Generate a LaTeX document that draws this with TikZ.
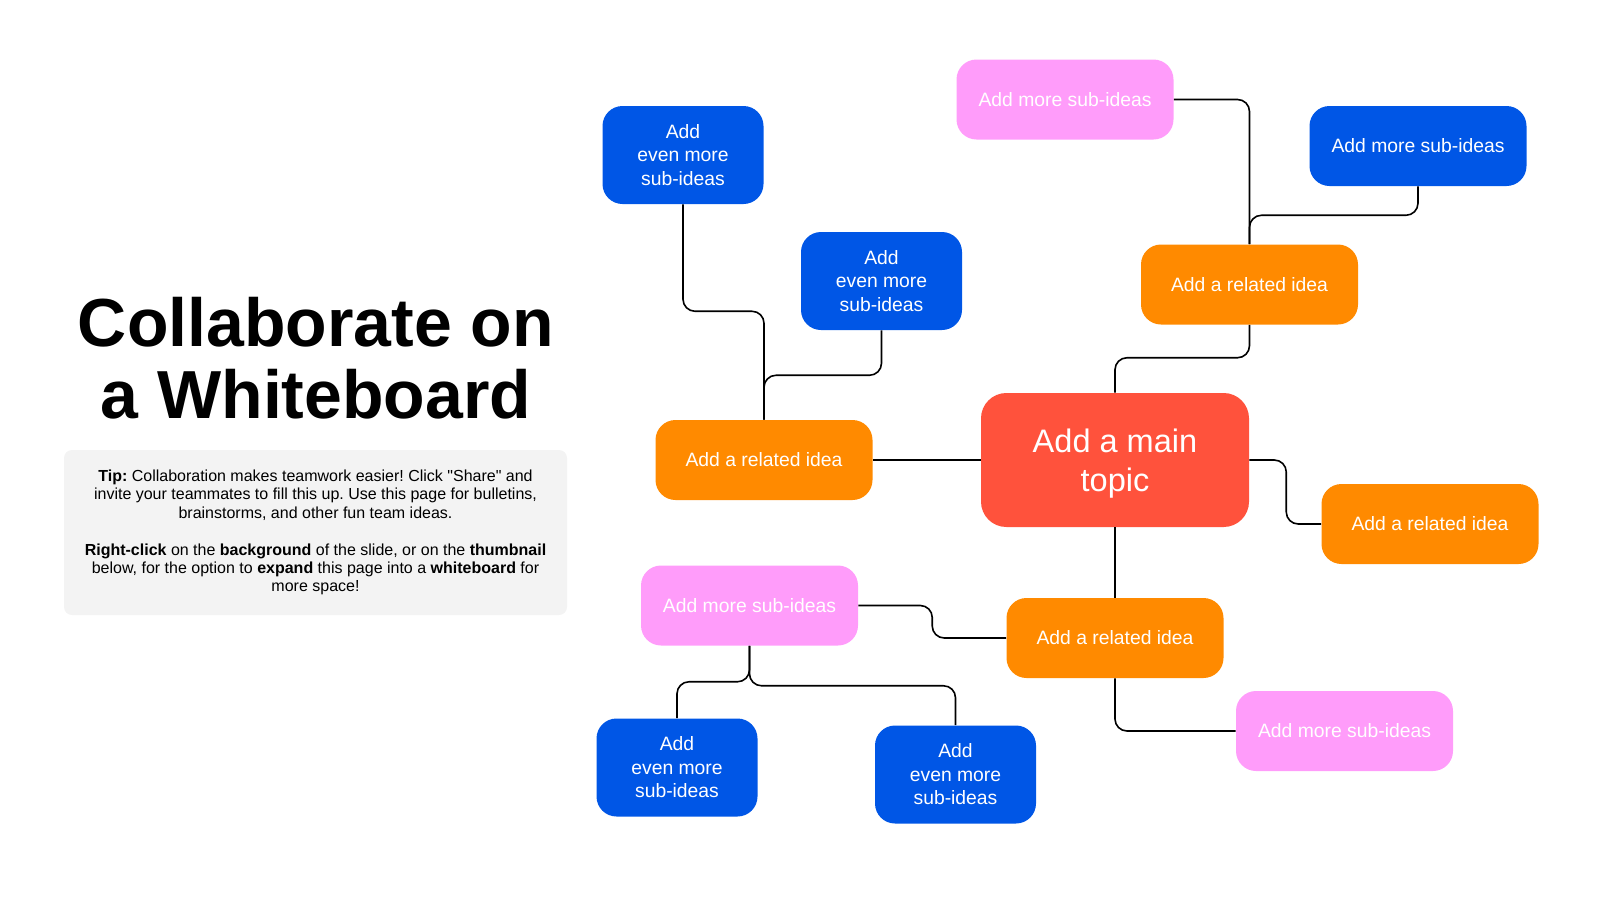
\documentclass[tikz,border=0pt]{standalone}
\usepackage{fontspec}
\setmainfont{Liberation Sans}
\frenchspacing
\definecolor{ideablue}{RGB}{0,86,230}
\definecolor{ideaorange}{RGB}{255,138,0}
\definecolor{ideared}{RGB}{255,82,60}
\definecolor{ideapink}{RGB}{255,156,250}
\definecolor{tipgrey}{RGB}{243,243,243}
\begin{document}
\begin{tikzpicture}[x=0.75pt,y=0.75pt,yscale=-1,xscale=1,
    link/.style={line width=1.2pt, rounded corners=9pt},
    idea/.style={rounded corners=15pt, minimum width=162.75pt, minimum height=60pt, inner sep=0pt,
        text=white, align=center, font=\fontsize{14.5}{17.6}\selectfont},
    relbox/.style={idea, fill=ideaorange},
    subbox/.style={idea, fill=ideapink},
    morebox/.style={idea, fill=ideablue},
    evenbox/.style={idea, fill=ideablue, minimum width=120.75pt, minimum height=73.5pt}]
        \useasboundingbox (0,0) rectangle (1600,900);

        % Title
        \node (title) at (316,358) [align=center, font=\fontsize{51}{54}\selectfont\bfseries] {Collaborate on\\a Whiteboard};
        % Tip box
        \node (tip) at (315.5,532.5) [fill=tipgrey, rounded corners=6pt, minimum width=377.25pt, minimum height=123.75pt,
            align=center, font=\fontsize{12}{13.8}\selectfont]
            {\textbf{Tip:} Collaboration makes teamwork easier! Click \textquotedbl Share\textquotedbl\ and\\
             invite your teammates to fill this up. Use this page for bulletins,\\
             brainstorms, and other fun team ideas.\\[13.8pt]
             \textbf{Right-click} on the \textbf{background} of the slide, or on the \textbf{thumbnail}\\
             below, for the option to \textbf{expand} this page into a \textbf{whiteboard} for\\
             more space!};

        % Main topic
        \node (main) at (1115,460) [fill=ideared, rounded corners=19pt, minimum width=201pt, minimum height=100.5pt,
            text height=52.5pt, text=white, align=center, font=\fontsize{24.4}{29}\selectfont] {Add a main\\topic};
        % Related ideas
        \node (relleft) at (764,460) [relbox] {Add a related idea};
        \node (relup) at (1249.5,284.5) [relbox] {Add a related idea};
        \node (relright) at (1430,524) [relbox] {Add a related idea};
        \node (reldown) at (1115,638) [relbox] {Add a related idea};
        % Sub-ideas
        \node (subtop) at (1065,99.5) [subbox] {Add more sub-ideas};
        \node (moretop) at (1418,146) [morebox] {Add more sub-ideas};
        \node (subright) at (1344.5,731) [subbox] {Add more sub-ideas};
        \node (subleft) at (749.5,605.5) [subbox] {Add more sub-ideas};
        \node (evenA) at (683,155) [evenbox] {Add\\even more\\sub-ideas};
        \node (evenB) at (881.5,281) [evenbox] {Add\\even more\\sub-ideas};
        \node (evenC) at (677,767.5) [evenbox] {Add\\even more\\sub-ideas};
        \node (evenD) at (955.5,774.5) [evenbox] {Add\\even more\\sub-ideas};

        % Connectors
        \draw[link] (evenA.south) -- ++(0,107) -| (relleft.north);
        \draw[link] (evenB.south) -- ++(0,45) -| (relleft.north);
        \draw[link] (relleft.east) -- (main.west);
        \draw[link] (main.north) -- ++(0,-35) -| (relup.south);
        \draw[link] (relup.north) |- (subtop.east);
        \draw[link] (moretop.south) -- ++(0,29) -| (relup.north);
        \draw[link] (main.east) -- ++(37,0) |- (relright.west);
        \draw[link] (main.south) -- (reldown.north);
        \draw[link] (reldown.west) -- ++(-74,0) |- (subleft.east);
        \draw[link] (reldown.south) |- (subright.west);
        \draw[link] (subleft.south) -- ++(0,36) -| (evenC.north);
        \draw[link] (subleft.south) -- ++(0,40) -| (evenD.north);
    \end{tikzpicture}
\end{document}
